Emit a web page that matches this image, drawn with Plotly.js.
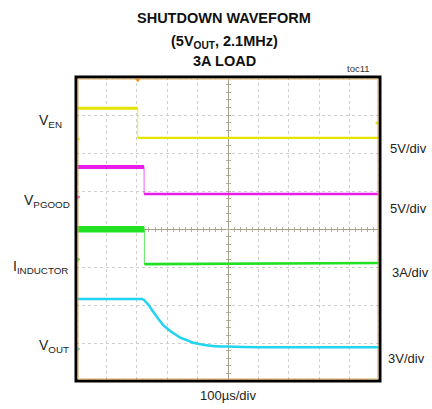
<!DOCTYPE html>
<html>
<head>
<meta charset="utf-8">
<script src="https://cdn.plot.ly/plotly-3.0.1.min.js"></script>
<style>
html,body{margin:0;padding:0;background:#fff;}
#chart{width:432px;height:409px;}
</style>
</head>
<body>
<div id="chart"></div>
<script>
// ---- data (time in µs, values in V or A) ----
const timeEN   = [-500, -297, -297, 500];
const valEN    = [4.05, 4.05, 0.15, 0.15];

const timePG   = [-500, -276, -276, 500];
const valPG    = [3.95, 3.95, 0.40, 0.40];

const timeIL   = [-500, -275, -275, 0, 500];
const valIL    = [2.38, 2.38, -0.37, -0.33, -0.28];

const timeOUT  = [-500, -279, -262, -246, -229, -213, -196, -180, -160, -136, -114, -82, -50, 0, 100, 500];
const valOUT   = [3.95, 3.95, 3.50, 2.94, 2.38, 1.90, 1.55, 1.26, 0.95, 0.71, 0.50, 0.35, 0.25, 0.20, 0.15, 0.14];

// channel settings
const chNames     = ["V<sub>EN</sub>", "V<sub>PGOOD</sub>", "I<sub>INDUCTOR</sub>", "V<sub>OUT</sub>"];
const chScaleText = ["5V/div", "5V/div", "3A/div", "3V/div"];
const chPerDiv    = [5, 5, 3, 3];
const chGroundDiv = [6.37, 4.84, 3.20, 0.84];
const chColors    = ["#e4e400", "#e81ee8", "#22e022", "#22d4f0"];
const triggerTime = -297;     // µs
const triggerLevel = 2.1;     // V on EN

const chTimes = [timeEN, timePG, timeIL, timeOUT];
const chVals  = [valEN, valPG, valIL, valOUT];
const preWidth  = [3, 4, 6.5, 2.5];
const postWidth = [2.2, 2.4, 2.6, 2.5];
const fallIdx   = [1, 1, 1, 1];

const FONT = "Liberation Sans, Arial, Helvetica, sans-serif";
const L = 76, R = 380, T = 77, B = 381;
const px2x = p => (p - L) / (R - L);
const py2y = p => (B - p) / (B - T);

const traces = [];
// main subplot + centre-cross axes (drawn beneath the data)
traces.push({x: [], y: [], xaxis: "x", yaxis: "y", hoverinfo: "skip"});
traces.push({x: [], y: [], xaxis: "x2", yaxis: "y", hoverinfo: "skip"});
traces.push({x: [], y: [], xaxis: "x3", yaxis: "y", hoverinfo: "skip"});
traces.push({x: [], y: [], xaxis: "x", yaxis: "y2", hoverinfo: "skip"});
traces.push({x: [], y: [], xaxis: "x", yaxis: "y3", hoverinfo: "skip"});

const D = {xaxis: "x4", yaxis: "y4", hoverinfo: "skip"};
for (let c = 0; c < 4; c++) {
  const ys = chVals[c].map(v => chGroundDiv[c] + v / chPerDiv[c]);
  const xs = chTimes[c];
  traces.push(Object.assign({x: xs, y: ys, mode: "lines", line: {color: chColors[c], width: 1}, opacity: 0.7}, D));
  traces.push(Object.assign({x: xs.slice(0, fallIdx[c] + 1), y: ys.slice(0, fallIdx[c] + 1), mode: "lines",
               line: {color: chColors[c], width: preWidth[c]}}, D));
  if (c === 3) {
    traces.push(Object.assign({x: xs.slice(fallIdx[c]), y: ys.slice(fallIdx[c]), mode: "lines",
                 line: {color: chColors[c], width: postWidth[c], shape: "spline"}}, D));
  } else {
    traces.push(Object.assign({x: xs.slice(fallIdx[c] + 1), y: ys.slice(fallIdx[c] + 1), mode: "lines",
                 line: {color: chColors[c], width: postWidth[c]}}, D));
  }
  traces.push(Object.assign({x: [-494], y: [chGroundDiv[c]], mode: "markers", cliponaxis: false,
               marker: {symbol: "triangle-right", size: 5, color: chColors[c]}}, D));
}
traces.push(Object.assign({x: [triggerTime], y: [7.93], mode: "markers", cliponaxis: false,
             marker: {symbol: "triangle-down", size: 5, color: "#ff8a00"}}, D));
traces.push(Object.assign({x: [490], y: [chGroundDiv[0] + triggerLevel / chPerDiv[0]], mode: "markers", cliponaxis: false,
             marker: {symbol: "triangle-left", size: 4, color: chColors[0]}}, D));

const gridCol = "#cfcfcf";
const tickCol = "#b8b0a0";
const baseX = {range: [-500, 500], showticklabels: false, zeroline: false, fixedrange: true, layer: "below traces"};
const baseY = {range: [0, 8], showticklabels: false, zeroline: false, fixedrange: true, layer: "below traces"};

const annotations = [];
const leftLabelRight = [64, 72, 70, 71];
const leftLabelY = [121, 201, 267, 346];
const rightLabelX = [388, 388, 390, 386];
const rightLabelY = [148, 208, 272, 358];
for (let c = 0; c < 4; c++) {
  annotations.push({xref: "paper", yref: "paper", x: px2x(leftLabelRight[c]), y: py2y(leftLabelY[c]),
    xanchor: "right", yanchor: "middle", text: chNames[c], showarrow: false,
    font: {family: FONT, size: 14, color: "#222"}});
  annotations.push({xref: "paper", yref: "paper", x: px2x(rightLabelX[c]), y: py2y(rightLabelY[c]),
    xanchor: "left", yanchor: "middle", text: chScaleText[c], showarrow: false,
    font: {family: FONT, size: 13, color: "#222"}});
}
annotations.push({xref: "paper", yref: "paper", x: px2x(228), y: py2y(395), xanchor: "center", yanchor: "middle",
  text: "100µs/div", showarrow: false, font: {family: FONT, size: 13, color: "#222"}});
annotations.push({xref: "paper", yref: "paper", x: px2x(358), y: py2y(68), xanchor: "center", yanchor: "middle",
  text: "toc11", showarrow: false, font: {family: FONT, size: 9.5, color: "#333"}});
const titleLines = ["SHUTDOWN WAVEFORM", "(5V<sub>OUT</sub>, 2.1MHz)", "3A LOAD"];
const titleY = [17.5, 42, 61];
for (let i = 0; i < 3; i++) {
  annotations.push({xref: "paper", yref: "paper", x: px2x(224), y: py2y(titleY[i]), xanchor: "center", yanchor: "middle",
    text: "<b>" + titleLines[i] + "</b>", showarrow: false, font: {family: FONT, size: 14.5, color: "#111"}});
}

const layout = {
  width: 432, height: 409,
  margin: {l: L, r: 432 - R, t: T, b: 409 - B, pad: 0},
  paper_bgcolor: "#fff", plot_bgcolor: "#fff",
  showlegend: false,
  xaxis: Object.assign({}, baseX, {
    dtick: 100, showgrid: true, gridcolor: gridCol, griddash: "dot", gridwidth: 1,
    ticks: "inside", ticklen: 3, tickcolor: tickCol, mirror: "ticks",
    minor: {dtick: 20, ticks: "inside", ticklen: 2, tickcolor: tickCol},
    showline: false
  }),
  yaxis: Object.assign({}, baseY, {
    dtick: 1, showgrid: true, gridcolor: gridCol, griddash: "dot", gridwidth: 1,
    ticks: "inside", ticklen: 3, tickcolor: tickCol, mirror: "ticks",
    minor: {dtick: 0.2, ticks: "inside", ticklen: 2, tickcolor: tickCol},
    showline: false
  }),
  xaxis2: Object.assign({}, baseX, {overlaying: "x", anchor: "free", position: 0.5, showgrid: false,
    showline: true, linecolor: "#a89f8a", linewidth: 1, dtick: 100, ticks: "outside", ticklen: 2, tickcolor: tickCol,
    minor: {dtick: 20, ticks: "outside", ticklen: 2, tickcolor: tickCol}}),
  xaxis3: Object.assign({}, baseX, {overlaying: "x", anchor: "free", position: 0.5, showgrid: false,
    showline: false, dtick: 100, ticks: "inside", ticklen: 2, tickcolor: tickCol,
    minor: {dtick: 20, ticks: "inside", ticklen: 2, tickcolor: tickCol}}),
  yaxis2: Object.assign({}, baseY, {overlaying: "y", anchor: "free", position: 0.5, showgrid: false,
    showline: true, linecolor: "#a89f8a", linewidth: 1, dtick: 1, ticks: "outside", ticklen: 2, tickcolor: tickCol,
    minor: {dtick: 0.2, ticks: "outside", ticklen: 2, tickcolor: tickCol}}),
  yaxis3: Object.assign({}, baseY, {overlaying: "y", anchor: "free", position: 0.5, showgrid: false,
    showline: false, dtick: 1, ticks: "inside", ticklen: 2, tickcolor: tickCol,
    minor: {dtick: 0.2, ticks: "inside", ticklen: 2, tickcolor: tickCol}}),
  xaxis4: Object.assign({}, baseX, {overlaying: "x", showgrid: false, showline: false, ticks: ""}),
  yaxis4: Object.assign({}, baseY, {overlaying: "y", showgrid: false, showline: false, ticks: ""}),
  shapes: [
    {type: "rect", xref: "paper", yref: "paper", x0: 0, x1: 1, y0: 0, y1: 1,
     line: {color: "#000", width: 3}, layer: "above"},
    {type: "rect", xref: "paper", yref: "paper", x0: px2x(L + 2), x1: px2x(R - 2), y0: py2y(B - 2), y1: py2y(T + 2),
     line: {color: "#d8a85a", width: 1}, layer: "above"}
  ],
  annotations: annotations
};

Plotly.newPlot("chart", traces, layout, {staticPlot: true, displayModeBar: false});
</script>
</body>
</html>
